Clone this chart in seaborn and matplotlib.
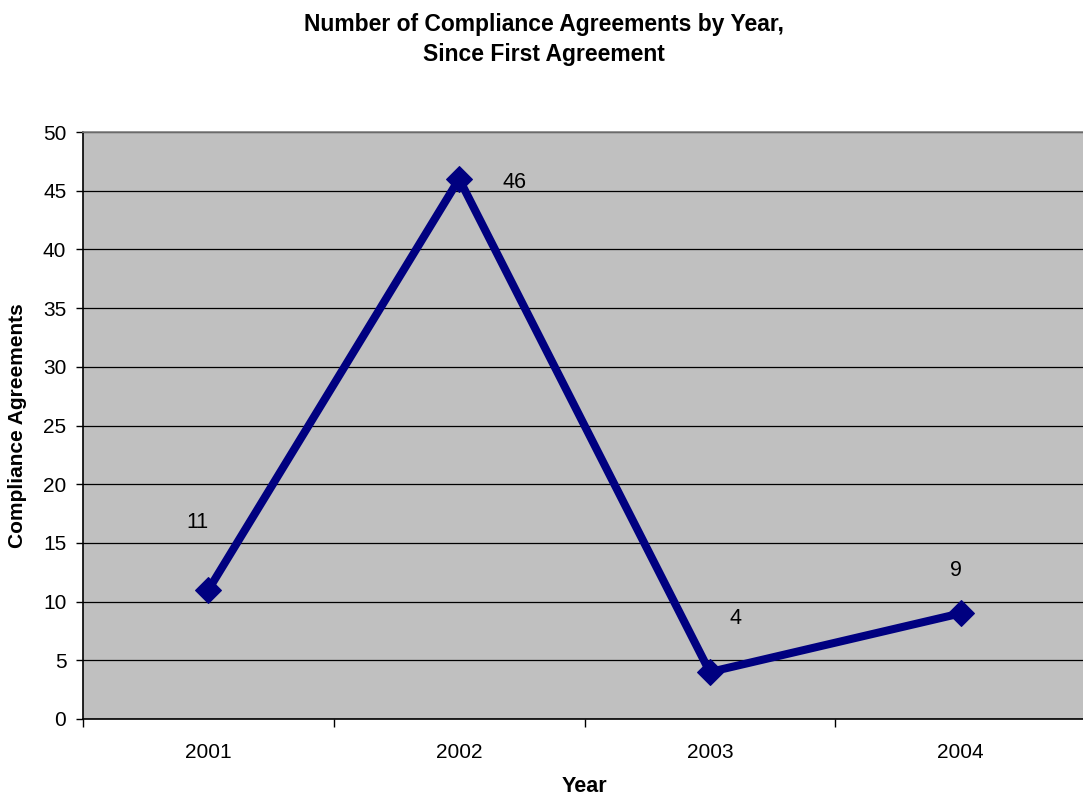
import matplotlib
matplotlib.use("Agg")
import matplotlib.pyplot as plt
import seaborn as sns
import pandas as pd
from matplotlib.ticker import FixedLocator, NullFormatter

years = ["2001", "2002", "2003", "2004"]
agreements = [11, 46, 4, 9]
label_offsets_px = [(-11, 67), (55, -4), (26, 54), (-5, 43)]

sns.set_theme(style="white")
plt.rcParams["font.family"] = ["Liberation Sans", "DejaVu Sans"]
plt.rcParams["text.color"] = "black"

df = pd.DataFrame({"pos": list(range(len(years))), "Year": years, "val": agreements})

W, H = 1083, 800
left, right, top, bottom = 83, 1086, 132, 719
fig = plt.figure(figsize=(W / 100, H / 100), dpi=100)
ax = fig.add_axes([left / W, 1 - bottom / H, (right - left) / W, (bottom - top) / H])
ax.set_facecolor("#C0C0C0")

sns.lineplot(data=df, x="pos", y="val", ax=ax, color="#000080", linewidth=5.8,
             marker="D", markersize=13, markeredgecolor="#000080", zorder=5)

ax.set_xlim(-0.5, 3.5)
ax.set_ylim(0, 50)
ax.set_yticks(range(0, 51, 5))
ax.yaxis.grid(True, color="black", linewidth=0.9)
ax.set_axisbelow(True)

ax.xaxis.set_major_locator(FixedLocator([-0.5, 0.5, 1.5, 2.5, 3.5]))
ax.xaxis.set_major_formatter(NullFormatter())
ax.xaxis.set_minor_locator(FixedLocator(list(range(len(years)))))
ax.set_xticklabels(years, minor=True)
ax.tick_params(axis="x", which="major", direction="out", length=6, width=1, color="black", bottom=True)
ax.tick_params(axis="x", which="minor", length=0, pad=17, labelsize=15, labelcolor="black", bottom=True)
ax.tick_params(axis="y", direction="out", length=5, width=1, color="black", labelsize=15, labelcolor="black", left=True, pad=7)

for s in ["left", "bottom"]:
    ax.spines[s].set_color("black")
    ax.spines[s].set_linewidth(1.2)
ax.spines["top"].set_color("#808080")
ax.spines["top"].set_linewidth(1.2)
ax.spines["right"].set_visible(False)

ax.set_xlabel("Year", fontsize=15.5, fontweight="bold", color="black")
ax.set_ylabel("Compliance Agreements", fontsize=15, fontweight="bold", color="black")
ax.xaxis.set_label_coords(0.5, (bottom - 787) / (bottom - top))
ax.xaxis.label.set_va("center")
ax.yaxis.set_label_coords((18 - left) / (right - left), 0.5)
ax.yaxis.label.set_va("center")

for i, (v, (dx, dy)) in enumerate(zip(agreements, label_offsets_px)):
    ax.annotate(str(v), (i, v), xytext=(dx * 0.72, dy * 0.72), textcoords="offset points",
                ha="center", va="center", fontsize=15.5, color="black")

fig.text(544 / W, 1 - 25 / H, "Number of Compliance Agreements by Year,", ha="center", va="center",
         fontsize=16.5, fontweight="bold", color="black")
fig.text(544 / W, 1 - 54 / H, "Since First Agreement", ha="center", va="center",
         fontsize=16.5, fontweight="bold", color="black")

fig.savefig("out.png", dpi=100)
